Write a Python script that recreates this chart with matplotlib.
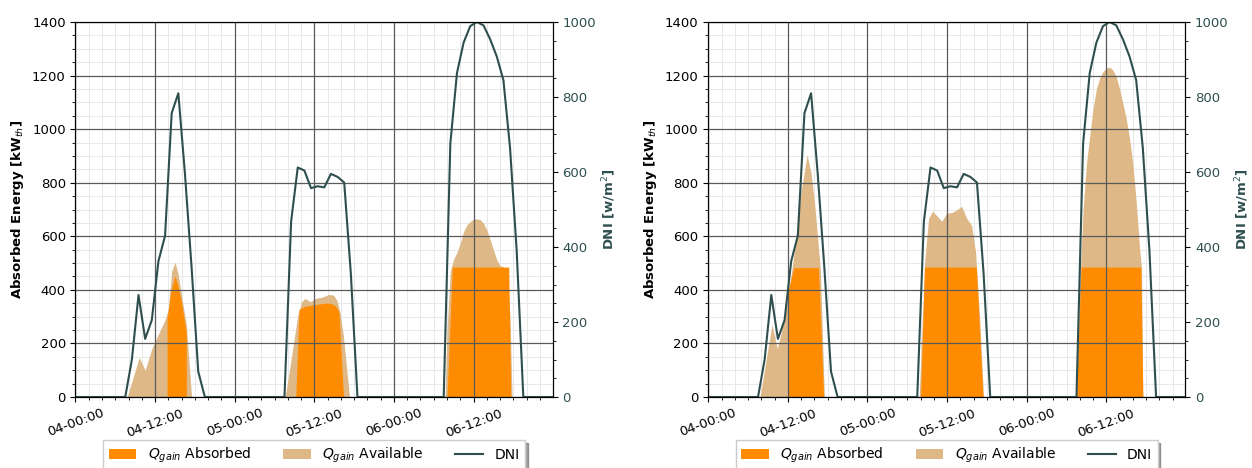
"""Absorbed vs available Q_gain against DNI, two cases side by side."""
import datetime as dt
import numpy as np
import matplotlib
matplotlib.use("Agg")
import matplotlib.pyplot as plt
import matplotlib.dates as mdates
from matplotlib.ticker import MultipleLocator

START = dt.datetime(2021, 6, 4)   # only day-hour is shown on the axis

# ---- DNI [W/m2], same weather for both panels; hours since 04-00:00 ----
dni_hours = [0, 7.5, 8.5, 9.5, 10.5, 11.5, 12.5, 13.5, 14.5, 15.5, 16.5, 17.5, 18.5, 19.5,
             31.5, 32.5, 33.5, 34.5, 35.5, 36.5, 37.5, 38.5, 39.5, 40.5, 41.5, 42.5,
             55.5, 56.5, 57.5, 58.5, 59.5, 60.5, 61.5, 62.5, 63.5, 64.5, 65.5, 66.5, 67.5, 72]
dni_vals = [0, 0, 100, 272, 155, 205, 362, 430, 757, 810, 595, 345, 68, 0,
            0, 468, 612, 604, 557, 562, 559, 595, 587, 572, 330, 0,
            0, 676, 864, 945, 989, 1000, 991, 954, 908, 845, 664, 390, 0, 0]

# ---- left panel [kW_th] ----
left_avail_hours = [7.8, 9.6, 10.5, 11.5, 12.5, 13.5, 14.0, 14.5, 15.0, 15.5, 16.0, 16.7, 17.5,
                    31.6, 32.5, 33.5, 34.1, 34.6, 35.4, 36.2, 37.2, 38.2, 38.9, 39.4, 39.9, 40.4, 40.9, 41.3,
                    55.7, 56.0, 56.5, 57.0, 57.5, 58.0, 58.5, 59.0, 59.5, 60.0, 60.5, 61.0, 61.5,
                    62.0, 62.5, 63.0, 63.5, 64.0, 64.5, 65.0, 65.5, 65.8]
left_avail_vals = [0, 148, 100, 180, 235, 288, 330, 470, 503, 455, 375, 270, 0,
                   0, 140, 305, 356, 368, 356, 368, 373, 383, 380, 361, 311, 224, 100, 0,
                   0, 250, 470, 515, 540, 574, 618, 643, 655, 664, 665, 662, 649,
                   624, 587, 549, 512, 490, 486, 470, 300, 0]
left_abs_hours = [13.8, 13.8, 14.3, 15.0, 15.5, 16.0, 16.7, 16.7,
                  33.2, 33.7, 34.5, 35.5, 36.5, 37.5, 38.5, 39.2, 39.7, 40.4,
                  56.0, 56.8, 65.3, 65.6]
left_abs_vals = [0, 290, 385, 452, 410, 350, 240, 0,
                 0, 327, 338, 342, 346, 350, 350, 340, 320, 0,
                 0, 485, 485, 0]

# ---- right panel [kW_th] ----
right_avail_hours = [7.8, 9.6, 10.4, 11.0, 11.8, 12.3, 13.0, 14.0, 14.9, 15.5, 16.0, 16.5, 16.9, 17.5,
                     31.8, 32.6, 33.2, 33.8, 34.7, 35.2, 35.9, 36.9, 38.2, 38.9, 39.7, 40.3, 40.9, 41.5,
                     55.5, 56.0, 56.5, 57.0, 57.5, 58.0, 58.5, 59.0, 59.5, 60.0, 60.5, 61.0, 61.5,
                     62.0, 62.5, 63.0, 63.5, 64.0, 64.5, 65.0, 65.3, 65.5]
right_avail_vals = [0, 270, 180, 240, 340, 420, 550, 768, 905, 835, 730, 590, 475, 0,
                    0, 500, 665, 694, 670, 656, 685, 690, 712, 670, 640, 540, 300, 0,
                    0, 420, 700, 870, 975, 1075, 1150, 1190, 1215, 1228, 1232, 1220, 1195,
                    1150, 1095, 1040, 965, 870, 730, 560, 480, 0]
right_abs_hours = [12.0, 12.0, 12.9, 16.6, 17.4,
                   32.0, 32.6, 40.4, 41.4,
                   55.5, 56.2, 65.2, 65.5]
right_abs_vals = [0, 395, 483, 483, 0,
                  0, 485, 485, 0,
                  0, 485, 485, 0]

ABS_C = "#FF8C00"
AVAIL_C = "#DEB887"
DNI_C = "#2F4F4F"
FS = 9.5


def to_dates(hours):
    return mdates.date2num(START) + np.asarray(hours, dtype=float) / 24.0


def panel(fig, rect, avail_h, avail_v, abs_h, abs_v):
    ax = fig.add_axes(rect)
    ax.fill_between(to_dates(avail_h), avail_v, color=AVAIL_C, lw=0,
                    label=r"$Q_{gain}$ Available")
    ax.fill_between(to_dates(abs_h), abs_v, color=ABS_C, lw=0,
                    label=r"$Q_{gain}$ Absorbed")
    ax.set_xlim(to_dates([0, 71.9]))
    ax.set_ylim(0, 1400)
    ax.yaxis.set_major_locator(MultipleLocator(200))
    ax.yaxis.set_minor_locator(MultipleLocator(50))
    ax.xaxis.set_major_locator(mdates.HourLocator(byhour=[0, 12]))
    ax.xaxis.set_minor_locator(mdates.HourLocator(interval=2))
    ax.xaxis.set_major_formatter(mdates.DateFormatter("%d-%H:%M"))
    # faint minor grid sits under the fills, the darker major grid over them
    ax.set_axisbelow(True)
    ax.grid(which="minor", color="#e8e8e8", lw=0.7)
    for y in ax.get_yticks():
        ax.axhline(y, color="#5a5a5a", lw=0.9, zorder=1.5)
    for x in ax.get_xticks():
        ax.axvline(x, color="#5a5a5a", lw=0.9, zorder=1.5)
    ax.tick_params(labelsize=FS)
    plt.setp(ax.get_xticklabels(), rotation=20, ha="center")
    ax.set_ylabel(r"Absorbed Energy [kW$_{th}$]", fontsize=FS, fontweight="bold")

    ax2 = ax.twinx()
    ax2.plot(to_dates(dni_hours), dni_vals, color=DNI_C, lw=1.5, label="DNI")
    ax2.set_ylim(0, 1000)
    ax2.yaxis.set_major_locator(MultipleLocator(200))
    ax2.yaxis.set_minor_locator(MultipleLocator(50))
    ax2.tick_params(labelsize=FS, labelcolor=DNI_C)
    ax2.set_ylabel(r"DNI [w/m$^2$]", fontsize=FS, fontweight="bold", color=DNI_C,
                   labelpad=3)

    h1, l1 = ax.get_legend_handles_labels()
    h2, l2 = ax2.get_legend_handles_labels()
    handles = [h1[1], h1[0], h2[0]]
    labels = [l1[1], l1[0], l2[0]]
    ax2.legend(handles, labels, loc="upper center", bbox_to_anchor=(0.5, -0.097),
               ncol=3, fontsize=10, shadow=True, fancybox=False, columnspacing=2.3)
    return ax, ax2


fig = plt.figure(figsize=(12.52, 4.68), dpi=100)
panel(fig, [0.0603, 0.1517, 0.381, 0.8013],
      left_avail_hours, left_avail_vals, left_abs_hours, left_abs_vals)
panel(fig, [0.5657, 0.1517, 0.381, 0.8013],
      right_avail_hours, right_avail_vals, right_abs_hours, right_abs_vals)
fig.savefig("out.png", dpi=100)
